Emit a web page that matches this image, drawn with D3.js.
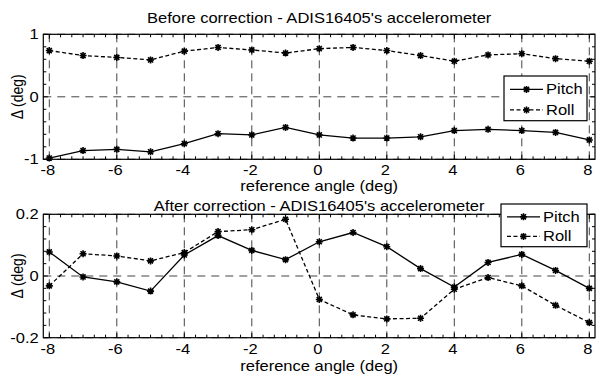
<!DOCTYPE html>
<html>
<head>
<meta charset="utf-8">
<script src="https://cdn.jsdelivr.net/npm/d3@7"></script>
<style>
  body { margin: 0; background: #fff; }
  svg text { font-family: Arial, "Liberation Sans", Helvetica, sans-serif; fill: #000; }
</style>
</head>
<body>
<svg id="chart" width="600" height="378"></svg>
<script>
// Reference angles (deg) at which the sensor was tested
const angles = [-8, -7, -6, -5, -4, -3, -2, -1, 0, 1, 2, 3, 4, 5, 6, 7, 8];

// Angle error before correction (deg)
const beforePitch = [-0.98, -0.86, -0.84, -0.88, -0.75, -0.59, -0.61, -0.49, -0.61, -0.66, -0.66, -0.64, -0.54, -0.52, -0.54, -0.57, -0.69];
const beforeRoll  = [0.74, 0.66, 0.63, 0.59, 0.73, 0.79, 0.75, 0.70, 0.77, 0.79, 0.74, 0.66, 0.57, 0.67, 0.69, 0.61, 0.57];

// Angle error after correction (deg)
const afterPitch = [0.078, -0.003, -0.019, -0.049, 0.068, 0.131, 0.083, 0.053, 0.111, 0.141, 0.095, 0.024, -0.036, 0.044, 0.070, 0.018, -0.040];
const afterRoll  = [-0.032, 0.072, 0.065, 0.049, 0.076, 0.144, 0.150, 0.184, -0.076, -0.126, -0.139, -0.137, -0.043, -0.005, -0.032, -0.095, -0.151];

// Tick labels
const xTicks = [-8, -6, -4, -2, 0, 2, 4, 6, 8];
const beforeYTicks = [-1, 0, 1];
const afterYTicks = [-0.2, 0, 0.2];
const seriesNames = ["Pitch", "Roll"];

const titles = ["Before correction - ADIS16405's accelerometer", "After correction - ADIS16405's accelerometer"];
const xLabel = "reference angle (deg)";
const yLabel = "\u0394 (deg)";

const svg = d3.select("#chart");
const FONT = 14;
const STRETCH = 1.18;   // the figure's text is set slightly wide

const plotLeft = 43.3, plotRight = 595;
// x = -8 sits at 49.3 px and x = 8 at 589.3 px, so the domain is padded a little
const pxPerUnit = (589.3 - 49.3) / 16;
const x = d3.scaleLinear()
  .domain([-8 - (49.3 - plotLeft) / pxPerUnit, 8 + (plotRight - 589.3) / pxPerUnit])
  .range([plotLeft, plotRight]);

const panels = [
  { title: titles[0], pitch: beforePitch, roll: beforeRoll, yTicks: beforeYTicks,
    top: 34.3, bottom: 159.3, titleY: 22.7, xLabelY: 190.5,
    legend: { x: 504, y: 76, w: 83, h: 44.7 } },
  { title: titles[1], pitch: afterPitch, roll: afterRoll, yTicks: afterYTicks,
    top: 214.3, bottom: 337.7, titleY: 211.3, xLabelY: 370.5,
    legend: { x: 501, y: 204, w: 86, h: 42.7 } }
];

// MATLAB-style '*' marker: plus and cross overlaid
function asterisk(r) {
  const d = r * 0.72;
  return `M${-r},0L${r},0M0,${-r}L0,${r}M${-d},${-d}L${d},${d}M${-d},${d}L${d},${-d}`;
}

// text helper: positions a label and applies the horizontal stretch
function label(parent, px, py, str, anchor, rotate) {
  return parent.append("text")
    .attr("transform", `translate(${px},${py}) scale(${STRETCH},1)` + (rotate ? ` rotate(${rotate})` : ""))
    .attr("text-anchor", anchor || "start")
    .attr("font-size", FONT)
    .text(str);
}

panels.forEach(p => {
  const yMin = p.yTicks[0], yMax = p.yTicks[p.yTicks.length - 1];
  const y = d3.scaleLinear().domain([yMin, yMax]).range([p.bottom, p.top]);
  const g = svg.append("g");

  // dashed grid at the major ticks
  g.append("g").selectAll("line").data(xTicks).join("line")
    .attr("x1", d => x(d)).attr("x2", d => x(d))
    .attr("y1", p.top).attr("y2", p.bottom)
    .attr("stroke", "#444").attr("stroke-width", 1).attr("stroke-dasharray", "8,5");
  g.append("g").selectAll("line").data(p.yTicks).join("line")
    .attr("x1", plotLeft).attr("x2", plotRight)
    .attr("y1", d => y(d)).attr("y2", d => y(d))
    .attr("stroke", "#444").attr("stroke-width", 1).attr("stroke-dasharray", "8,6");

  // data series
  const series = [
    { name: seriesNames[0], values: p.pitch, dash: null },
    { name: seriesNames[1], values: p.roll, dash: "4,2.5" }
  ];
  const line = d3.line().x((d, i) => x(angles[i])).y(d => y(d));
  series.forEach(s => {
    g.append("path").datum(s.values)
      .attr("d", line).attr("fill", "none")
      .attr("stroke", "#000").attr("stroke-width", 1.3)
      .attr("stroke-dasharray", s.dash);
    g.append("g").selectAll("path").data(s.values).join("path")
      .attr("transform", (d, i) => `translate(${x(angles[i])},${y(d)})`)
      .attr("d", asterisk(3.5))
      .attr("stroke", "#000").attr("stroke-width", 1.6).attr("fill", "none");
  });

  // minor ticks, inward on all four sides
  const xMinor = d3.range(-8, 8.0001, 2 / 6).filter(v => Math.abs(v / 2 - Math.round(v / 2)) > 1e-6);
  const yStep = (yMax - yMin) / (p.yTicks.length - 1) / 5;
  const yMinor = d3.range(yMin, yMax + yStep / 2, yStep)
    .filter(v => !p.yTicks.some(t => Math.abs(t - v) < yStep / 10));
  const ticks = g.append("g").attr("stroke", "#000").attr("stroke-width", 1);
  const minorLen = 3, majorLen = 4.5;
  [[xMinor, minorLen], [xTicks, majorLen]].forEach(([vals, len]) => {
    ticks.append("g").selectAll("line").data(vals).join("line")
      .attr("x1", d => x(d)).attr("x2", d => x(d)).attr("y1", p.bottom).attr("y2", p.bottom - len);
    ticks.append("g").selectAll("line").data(vals).join("line")
      .attr("x1", d => x(d)).attr("x2", d => x(d)).attr("y1", p.top).attr("y2", p.top + len);
  });
  [[yMinor, minorLen], [p.yTicks, majorLen]].forEach(([vals, len]) => {
    ticks.append("g").selectAll("line").data(vals).join("line")
      .attr("x1", plotLeft).attr("x2", plotLeft + len).attr("y1", d => y(d)).attr("y2", d => y(d));
    ticks.append("g").selectAll("line").data(vals).join("line")
      .attr("x1", plotRight).attr("x2", plotRight - len).attr("y1", d => y(d)).attr("y2", d => y(d));
  });

  // axes box
  g.append("rect")
    .attr("x", plotLeft).attr("y", p.top)
    .attr("width", plotRight - plotLeft).attr("height", p.bottom - p.top)
    .attr("fill", "none").attr("stroke", "#000").attr("stroke-width", 1.2);

  // tick labels
  xTicks.forEach(t => label(g, x(t) - 1.5, p.bottom + 16, String(t), "middle"));
  p.yTicks.forEach(t => label(g, plotLeft - 4.5, y(t) + 5, String(t), "end"));

  // title and axis labels
  const cx = (plotLeft + plotRight) / 2;
  label(g, cx, p.titleY, p.title, "middle");
  label(g, cx, p.xLabelY, xLabel, "middle");
  label(g, 22.5, (p.top + p.bottom) / 2, yLabel, "middle", -90);

  // legend
  const L = p.legend;
  const lg = g.append("g");
  lg.append("rect").attr("x", L.x).attr("y", L.y).attr("width", L.w).attr("height", L.h)
    .attr("fill", "#fff").attr("stroke", "#000").attr("stroke-width", 1.2);
  series.forEach((s, i) => {
    const ry = L.y + L.h * (i === 0 ? 0.3 : 0.76);
    const x0 = L.x + 6, x1 = L.x + 39;
    lg.append("line").attr("x1", x0).attr("x2", x1).attr("y1", ry).attr("y2", ry)
      .attr("stroke", "#000").attr("stroke-width", 1.3).attr("stroke-dasharray", s.dash);
    lg.append("path").attr("transform", `translate(${(x0 + x1) / 2},${ry})`)
      .attr("d", asterisk(3.5)).attr("stroke", "#000").attr("stroke-width", 1.6);
    label(lg, L.x + 42, ry + 5, s.name, "start");
  });
});
</script>
</body>
</html>
